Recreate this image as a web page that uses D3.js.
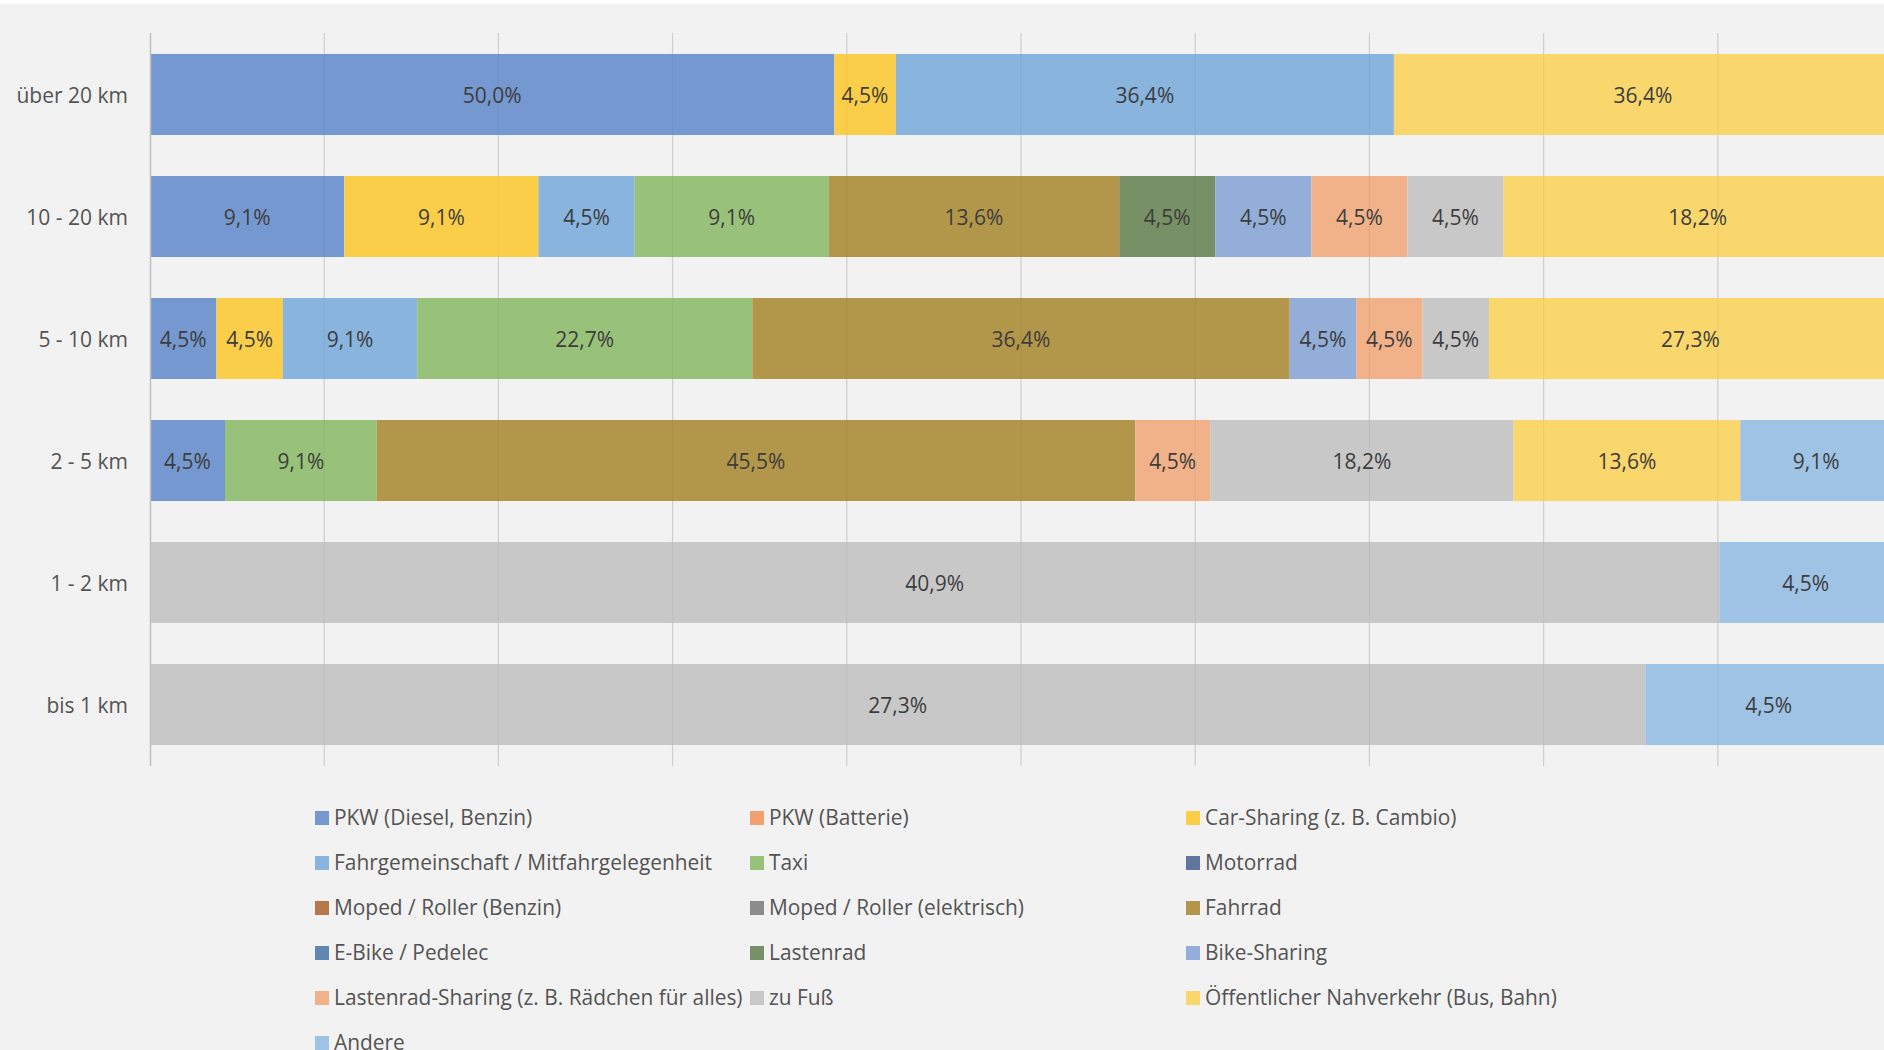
<!DOCTYPE html>
<html>
<head>
<meta charset="utf-8">
<script src="https://cdn.jsdelivr.net/npm/d3@7"></script>
<style>
  body { margin: 0; background: #f2f2f2; overflow: hidden; }
  svg { display: block; font-family: "Open Sans", sans-serif; }
</style>
</head>
<body>
<svg width="1884" height="1050"></svg>
<script>
// distance classes, top to bottom
var categories = ["über 20 km", "10 - 20 km", "5 - 10 km", "2 - 5 km", "1 - 2 km", "bis 1 km"];

var seriesNames = [
  "PKW (Diesel, Benzin)", "PKW (Batterie)", "Car-Sharing (z. B. Cambio)",
  "Fahrgemeinschaft / Mitfahrgelegenheit", "Taxi", "Motorrad",
  "Moped / Roller (Benzin)", "Moped / Roller (elektrisch)", "Fahrrad",
  "E-Bike / Pedelec", "Lastenrad", "Bike-Sharing",
  "Lastenrad-Sharing (z. B. Rädchen für alles)", "zu Fuß", "Öffentlicher Nahverkehr (Bus, Bahn)",
  "Andere"
];

var seriesColors = [
  "#7698d0", "#f0a16d", "#fbce4a",
  "#88b4dd", "#98c17a", "#60759d",
  "#b5784a", "#8c8c8c", "#b2974a",
  "#5f87b0", "#779065", "#92aed9",
  "#f1b28a", "#c8c8c8", "#f9d76d",
  "#9fc3e5"
];

// percent per series (same order as seriesNames), one array per distance class
var ueber20 = [50.0, 0, 4.5, 36.4, 0, 0, 0, 0, 0, 0, 0, 0, 0, 0, 36.4, 0];
var km10bis20 = [9.1, 0, 9.1, 4.5, 9.1, 0, 0, 0, 13.6, 0, 4.5, 4.5, 4.5, 4.5, 18.2, 0];
var km5bis10 = [4.5, 0, 4.5, 9.1, 22.7, 0, 0, 0, 36.4, 0, 0, 4.5, 4.5, 4.5, 27.3, 0];
var km2bis5 = [4.5, 0, 0, 0, 9.1, 0, 0, 0, 45.5, 0, 0, 0, 4.5, 18.2, 13.6, 9.1];
var km1bis2 = [0, 0, 0, 0, 0, 0, 0, 0, 0, 0, 0, 0, 0, 40.9, 0, 4.5];
var bis1 = [0, 0, 0, 0, 0, 0, 0, 0, 0, 0, 0, 0, 0, 27.3, 0, 4.5];

var rows = [ueber20, km10bis20, km5bis10, km2bis5, km1bis2, bis1];

var table = categories.map(function(c, i) {
  var o = { cat: c };
  seriesNames.forEach(function(s, j) { o[s] = rows[i][j]; });
  return o;
});

var svg = d3.select("svg");

// white strip at the very top
svg.append("rect").attr("x", 0).attr("y", 0).attr("width", 1884).attr("height", 4).attr("fill", "#ffffff");

var xScale = d3.scaleLinear().domain([0, 1]).range([150, 1892]);
var yScale = d3.scaleBand().domain(categories).range([33, 766])
  .paddingInner(0.336).paddingOuter(0.172);

var stack = d3.stack().keys(seriesNames).offset(d3.stackOffsetExpand);
var layers = stack(table);

var fmt = d3.formatLocale({ decimal: ",", thousands: ".", grouping: [3], currency: ["", "€"] }).format(".1f");

// gridlines
svg.append("g")
  .selectAll("line")
  .data(d3.range(1, 10).map(function(i) { return i / 10; }))
  .join("line")
    .attr("x1", function(d) { return xScale(d); })
    .attr("x2", function(d) { return xScale(d); })
    .attr("y1", 33).attr("y2", 766)
    .attr("stroke", "#d9d9d9")
    .attr("stroke-width", 1.3);

var layer = svg.append("g")
  .selectAll("g")
  .data(layers)
  .join("g")
    .attr("fill", function(d, i) { return seriesColors[i]; });

layer.selectAll("rect")
  .data(function(d) { return d.filter(function(p) { return p[1] - p[0] > 0; }); })
  .join("rect")
    .attr("x", function(d) { return xScale(d[0]); })
    .attr("y", function(d) { return yScale(d.data.cat); })
    .attr("width", function(d) { return xScale(d[1]) - xScale(d[0]); })
    .attr("height", yScale.bandwidth());

// faint gridlines showing through the bars
svg.append("g")
  .selectAll("line")
  .data(d3.range(1, 10).map(function(i) { return i / 10; }))
  .join("line")
    .attr("x1", function(d) { return xScale(d); })
    .attr("x2", function(d) { return xScale(d); })
    .attr("y1", 33).attr("y2", 766)
    .attr("stroke", "#000")
    .attr("stroke-opacity", 0.04)
    .attr("stroke-width", 1.3);

// value labels
layers.forEach(function(l, i) {
  svg.append("g")
    .selectAll("text")
    .data(l.filter(function(p) { return p[1] - p[0] > 0; }))
    .join("text")
      .attr("x", function(d) { return (xScale(d[0]) + xScale(d[1])) / 2; })
      .attr("y", function(d) { return yScale(d.data.cat) + yScale.bandwidth() / 2 + 3; })
      .attr("text-anchor", "middle")
      .attr("dominant-baseline", "middle")
      .attr("font-size", 21)
      .attr("fill", "#3d3d3d")
      .text(function(d) { return fmt(d.data[l.key]) + "%"; });
});

// y axis
var yAxis = svg.append("g")
  .attr("transform", "translate(150,0)")
  .call(d3.axisLeft(yScale).tickSize(0).tickPadding(22));
yAxis.select(".domain").remove();
yAxis.selectAll("text")
  .attr("font-size", 21)
  .attr("font-family", "Open Sans, sans-serif")
  .attr("fill", "#545454")
  .attr("dy", "0.4em");
svg.append("line")
  .attr("x1", 150.5).attr("x2", 150.5).attr("y1", 33).attr("y2", 766)
  .attr("stroke", "#bfbfbf").attr("stroke-width", 1.5);

// legend, three columns, row-wise
var legendX = [315, 750, 1186];
var legend = svg.append("g")
  .selectAll("g")
  .data(seriesNames)
  .join("g")
    .attr("transform", function(d, i) {
      return "translate(" + legendX[i % 3] + "," + (818 + Math.floor(i / 3) * 45) + ")";
    });
legend.append("rect")
  .attr("x", 0).attr("y", -7)
  .attr("width", 14).attr("height", 14)
  .attr("fill", function(d, i) { return seriesColors[i]; });
legend.append("text")
  .attr("x", 19).attr("y", 1)
  .attr("dominant-baseline", "middle")
  .attr("font-size", 20.9)
  .attr("fill", "#545454")
  .text(function(d) { return d; });
</script>
</body>
</html>
